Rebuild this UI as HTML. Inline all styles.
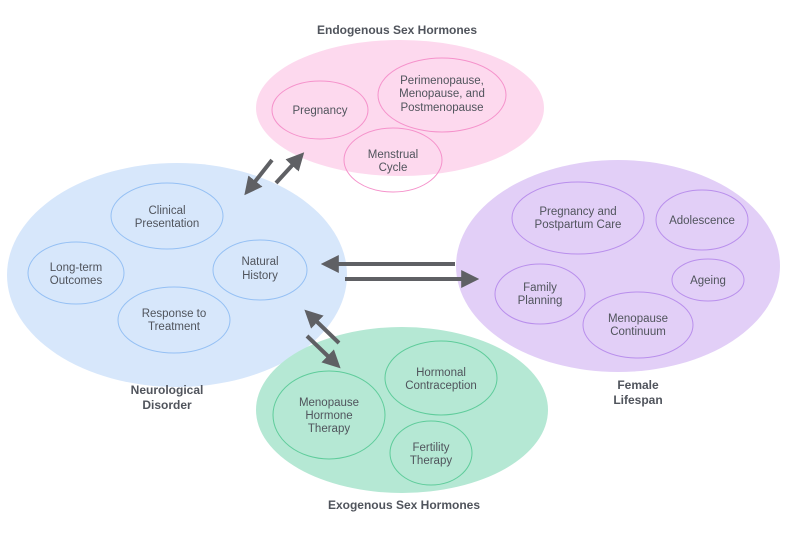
<!DOCTYPE html>
<html><head><meta charset="utf-8"><style>
html,body{margin:0;padding:0;background:#fff;}
svg{display:block;font-family:"Liberation Sans",sans-serif;}
.t{font-size:11.5px;fill:#50545c;text-anchor:middle;}
.h{font-size:12px;font-weight:bold;fill:#50545c;text-anchor:middle;}
</style></head><body>
<svg width="800" height="533" viewBox="0 0 800 533" xmlns="http://www.w3.org/2000/svg">
<defs>
<marker id="a" markerWidth="4.5" markerHeight="4.5" refX="2.2" refY="2.25" orient="auto" markerUnits="strokeWidth">
<path d="M0,0 L4.5,2.25 L0,4.5 Z" fill="#5f6064"/></marker>
</defs>
<ellipse cx="400" cy="108" rx="144" ry="68" fill="#fdd9ee"/>
<ellipse cx="177" cy="275" rx="170" ry="112" fill="#d7e7fb"/>
<ellipse cx="618" cy="266" rx="162" ry="106" fill="#e2cff7"/>
<ellipse cx="402" cy="410" rx="146" ry="83" fill="#b5e8d4"/>
<g fill="none" stroke="#f592cb" stroke-width="1">
<ellipse cx="320" cy="110" rx="48" ry="29"/>
<ellipse cx="442" cy="95" rx="64" ry="37"/>
<ellipse cx="393" cy="160" rx="49" ry="32"/>
</g>
<g fill="none" stroke="#95c0f4" stroke-width="1">
<ellipse cx="167" cy="216" rx="56" ry="33"/>
<ellipse cx="76" cy="273" rx="48" ry="31"/>
<ellipse cx="260" cy="270" rx="47" ry="30"/>
<ellipse cx="174" cy="320" rx="56" ry="33"/>
</g>
<g fill="none" stroke="#b98fec" stroke-width="1">
<ellipse cx="578" cy="218" rx="66" ry="36"/>
<ellipse cx="702" cy="220" rx="46" ry="30"/>
<ellipse cx="540" cy="294" rx="45" ry="30"/>
<ellipse cx="708" cy="280" rx="36" ry="21"/>
<ellipse cx="638" cy="325" rx="55" ry="33"/>
</g>
<g fill="none" stroke="#5fcc9b" stroke-width="1">
<ellipse cx="329" cy="415" rx="56" ry="44"/>
<ellipse cx="441" cy="378" rx="56" ry="37"/>
<ellipse cx="431" cy="453" rx="41" ry="32"/>
</g>
<g stroke="#5f6064" stroke-width="4" marker-end="url(#a)">
<line x1="272" y1="160" x2="250" y2="188"/>
<line x1="276" y1="183" x2="298" y2="159"/>
<line x1="455" y1="264" x2="330" y2="264"/>
<line x1="345" y1="279" x2="470" y2="279"/>
<line x1="339" y1="343" x2="311" y2="316"/>
<line x1="307" y1="336" x2="334" y2="362"/>
</g>
<text class="h" x="397" y="34">Endogenous Sex Hormones</text>
<text class="h" x="167" y="394">Neurological</text>
<text class="h" x="167" y="409">Disorder</text>
<text class="h" x="638" y="389">Female</text>
<text class="h" x="638" y="404">Lifespan</text>
<text class="h" x="404" y="509">Exogenous Sex Hormones</text>
<text class="t" x="320" y="114">Pregnancy</text>
<text class="t" x="442" y="84">Perimenopause,</text>
<text class="t" x="442" y="97">Menopause, and</text>
<text class="t" x="442" y="111">Postmenopause</text>
<text class="t" x="393" y="158">Menstrual</text>
<text class="t" x="393" y="171">Cycle</text>
<text class="t" x="167" y="214">Clinical</text>
<text class="t" x="167" y="227">Presentation</text>
<text class="t" x="76" y="271">Long-term</text>
<text class="t" x="76" y="284">Outcomes</text>
<text class="t" x="260" y="265">Natural</text>
<text class="t" x="260" y="279">History</text>
<text class="t" x="174" y="317">Response to</text>
<text class="t" x="174" y="330">Treatment</text>
<text class="t" x="578" y="215">Pregnancy and</text>
<text class="t" x="578" y="228">Postpartum Care</text>
<text class="t" x="702" y="224">Adolescence</text>
<text class="t" x="540" y="291">Family</text>
<text class="t" x="540" y="304">Planning</text>
<text class="t" x="708" y="284">Ageing</text>
<text class="t" x="638" y="322">Menopause</text>
<text class="t" x="638" y="335">Continuum</text>
<text class="t" x="329" y="406">Menopause</text>
<text class="t" x="329" y="419">Hormone</text>
<text class="t" x="329" y="432">Therapy</text>
<text class="t" x="441" y="376">Hormonal</text>
<text class="t" x="441" y="389">Contraception</text>
<text class="t" x="431" y="451">Fertility</text>
<text class="t" x="431" y="464">Therapy</text>
</svg>
</body></html>
